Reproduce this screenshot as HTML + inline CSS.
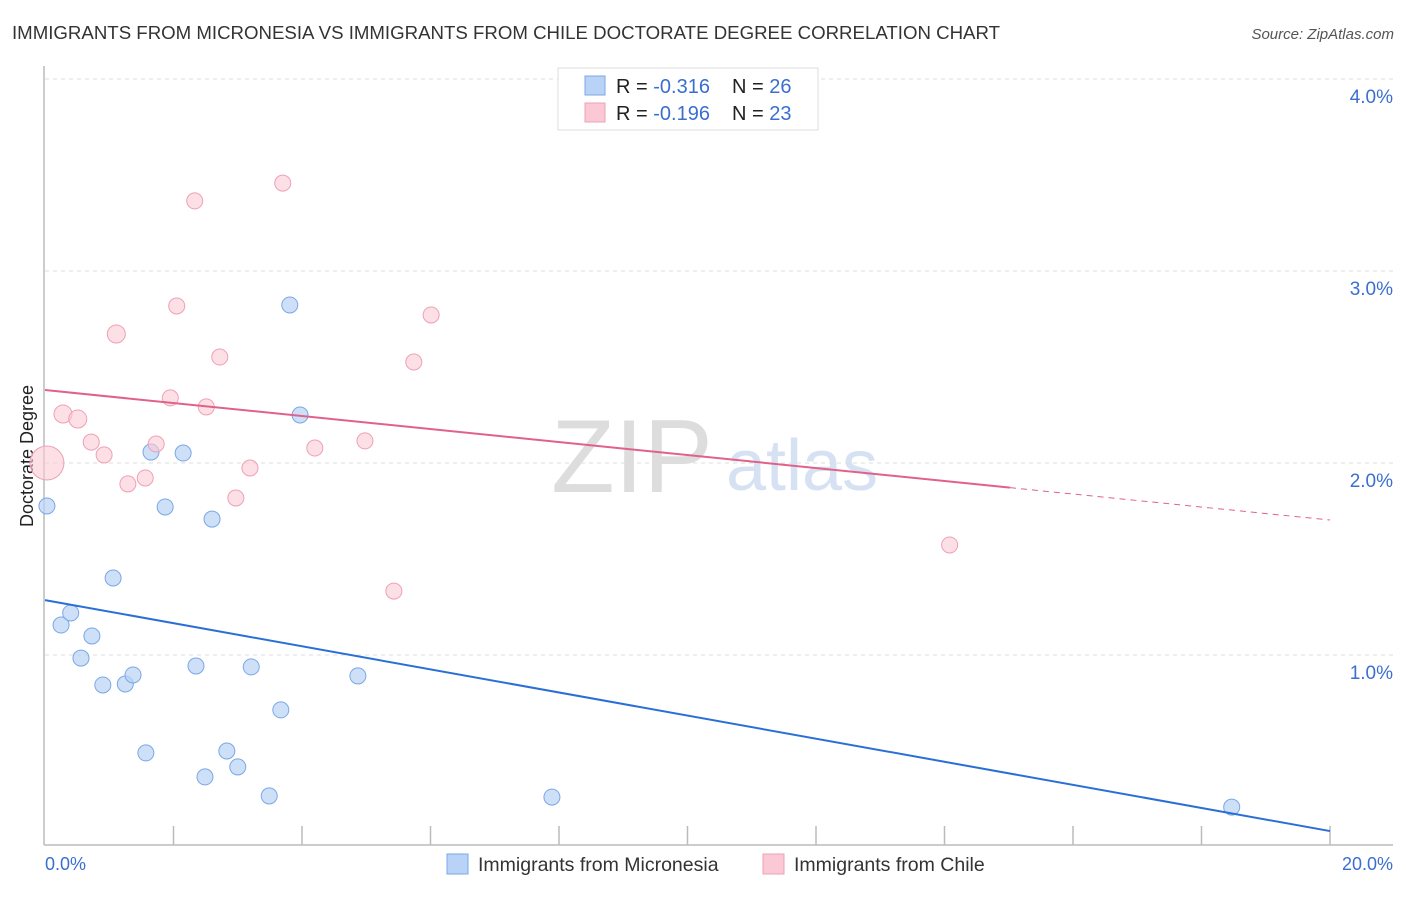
<!DOCTYPE html>
<html><head><meta charset="utf-8"><style>
body{margin:0;background:#fff;font-family:"Liberation Sans",sans-serif;}
svg text{font-family:"Liberation Sans",sans-serif;}
</style></head><body>
<svg id="c" width="1406" height="892">
<text x="12" y="39" font-size="18" fill="#333" textLength="988" lengthAdjust="spacingAndGlyphs">IMMIGRANTS FROM MICRONESIA VS IMMIGRANTS FROM CHILE DOCTORATE DEGREE CORRELATION CHART</text>
<text x="1394" y="39" font-size="15" fill="#555" font-style="italic" text-anchor="end">Source: ZipAtlas.com</text>
<text x="632" y="492" font-size="104" fill="#ddd" font-family="Liberation Serif" text-anchor="middle">ZIP</text>
<text x="802" y="490" font-size="72" fill="#d6e2f3" text-anchor="middle">atlas</text>
<g id="grid"></g>
<line x1="44" y1="66" x2="44" y2="845" stroke="#bbb" stroke-width="1.5"/>
<line x1="44" y1="845" x2="1393" y2="845" stroke="#bbb" stroke-width="1.5"/>
<text transform="translate(33,456) rotate(-90)" font-size="18" fill="#222" text-anchor="middle">Doctorate Degree</text>
<text x="45" y="870" font-size="18" fill="#3a6fd0">0.0%</text>
<text x="1393" y="870" font-size="18" fill="#3a6fd0" text-anchor="end">20.0%</text>
<g id="pts"></g>
<g id="lines"></g>
<g>
<rect x="558" y="68" width="260" height="62" fill="#fff" stroke="#ddd"/>
<rect x="585" y="76" width="20" height="19" fill="#b8d3f5" stroke="#7aa7e6"/>
<text x="616" y="93" font-size="20" fill="#222">R = <tspan fill="#3a6fd0">-0.316</tspan></text>
<text x="732" y="93" font-size="20" fill="#222">N = <tspan fill="#3a6fd0">26</tspan></text>
<rect x="585" y="103" width="20" height="19" fill="#fbc9d6" stroke="#eea0b6"/>
<text x="616" y="120" font-size="20" fill="#222">R = <tspan fill="#3a6fd0">-0.196</tspan></text>
<text x="732" y="120" font-size="20" fill="#222">N = <tspan fill="#3a6fd0">23</tspan></text>
</g>
<g>
<rect x="447" y="854" width="21" height="20" fill="#b8d3f5" stroke="#7aa7e6"/>
<text x="478" y="871" font-size="19.5" fill="#333">Immigrants from Micronesia</text>
<rect x="763" y="854" width="21" height="20" fill="#fbc9d6" stroke="#eea0b6"/>
<text x="794" y="871" font-size="19.5" fill="#333">Immigrants from Chile</text>
</g>
</svg>
<script>
const yTicks=[1,2,3,4];
const yTickLabels=["1.0%","2.0%","3.0%","4.0%"];
const xTickVals=[2,4,6,8,10,12,14,16,18,20];
const blueX=[0.03,0.25,0.40,0.56,0.73,0.90,1.06,1.25,1.37,1.57,1.65,1.87,2.15,2.35,2.49,2.60,2.83,3.00,3.21,3.49,3.67,3.81,3.97,4.87,7.89,18.47];
const blueY=[1.776,1.156,1.219,0.984,1.099,0.844,1.401,0.849,0.896,0.490,2.057,1.771,2.052,0.943,0.365,1.708,0.500,0.417,0.938,0.266,0.714,2.823,2.250,0.891,0.260,0.208];
const pinkX=[0.03,0.28,0.51,0.72,0.92,1.11,1.29,1.56,1.73,1.95,2.05,2.33,2.51,2.72,2.97,3.19,3.70,4.20,4.98,5.43,5.74,6.01,14.08];
const pinkY=[2.0,2.255,2.229,2.109,2.042,2.672,1.891,1.922,2.099,2.339,2.818,3.365,2.292,2.552,1.818,1.974,3.458,2.078,2.115,1.333,2.526,2.771,1.573];
const pinkR=[17,9,9,8,8,9,8,8,8,8,8,8,8,8,8,8,8,8,8,8,8,8,8];
const blueTrend=[1.286,0.083];
const pinkTrend=[2.38,1.703];
const pinkSolidEnd=15.02;
const NS="http://www.w3.org/2000/svg";
const sx=v=>45+v*64.25;
const sy=v=>847-v*192;
function mk(tag,attrs,parent){const e=document.createElementNS(NS,tag);for(const k in attrs)e.setAttribute(k,attrs[k]);document.getElementById(parent).appendChild(e);return e;}
yTicks.forEach((t,i)=>{
 const l=mk('line',{x1:45,x2:1393,y1:sy(t),y2:sy(t),stroke:'#ddd','stroke-dasharray':'4,4'},'grid');
 
 
 const tx=mk('text',{x:1393,y:sy(t)+24,'font-size':19,fill:'#3a6fd0','text-anchor':'end'},'grid');
 tx.textContent=yTickLabels[i];
 
 
});
xTickVals.forEach(t=>{
 const l=mk('line',{x1:sx(t),x2:sx(t),y1:826,y2:845,stroke:'#bbb','stroke-width':1.5},'grid');
 
 
});
blueX.forEach((x,i)=>{
 const c=mk('circle',{cx:sx(x),cy:sy(blueY[i]),r:8,fill:'#b8d3f5','fill-opacity':0.7,stroke:'#7aa7e6'},'pts');
 
 
});
pinkX.forEach((x,i)=>{
 const c=mk('circle',{cx:sx(x),cy:sy(pinkY[i]),r:pinkR[i],fill:'#fbc9d6','fill-opacity':0.6,stroke:'#eea0b6'},'pts');
 
 
});
const bl=mk('line',{x1:sx(0),y1:sy(blueTrend[0]),x2:sx(20),y2:sy(blueTrend[1]),stroke:'#2a6fd6','stroke-width':2},'lines');


const pAt=x=>pinkTrend[0]+(pinkTrend[1]-pinkTrend[0])*x/20;
const pl=mk('line',{x1:sx(0),y1:sy(pAt(0)),x2:sx(pinkSolidEnd),y2:sy(pAt(pinkSolidEnd)),stroke:'#e0628a','stroke-width':2},'lines');


const pd=mk('line',{x1:sx(pinkSolidEnd),y1:sy(pAt(pinkSolidEnd)),x2:sx(20),y2:sy(pAt(20)),stroke:'#e0628a','stroke-width':1,'stroke-dasharray':'6,5'},'lines');


</script>
</body></html>
